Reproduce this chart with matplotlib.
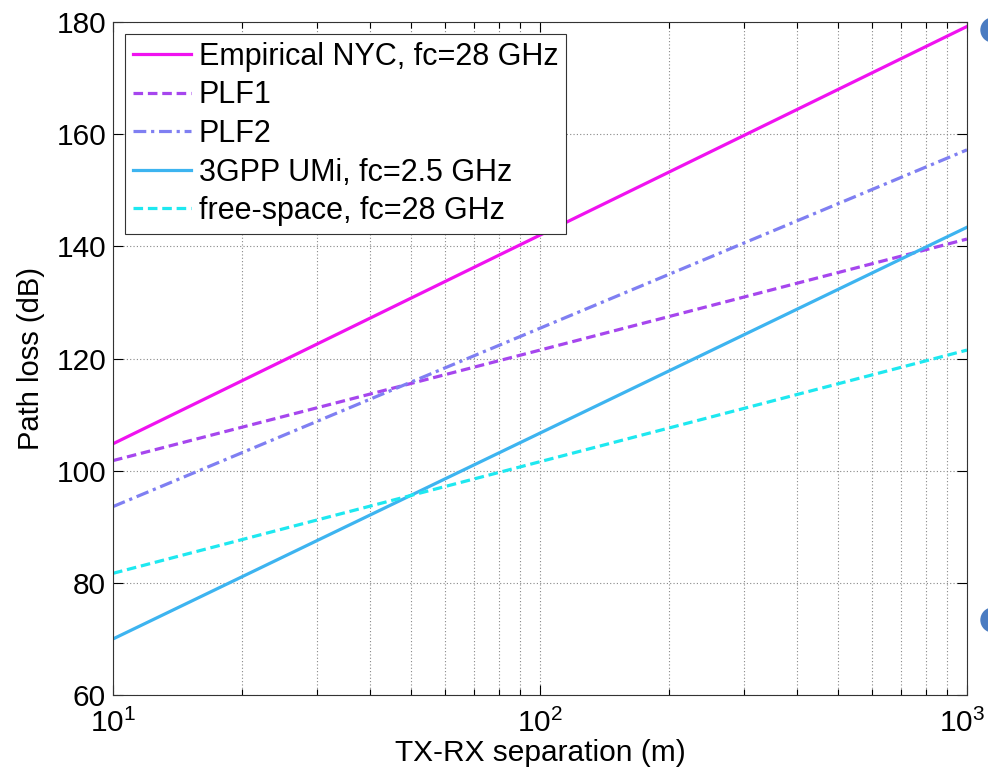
import matplotlib
matplotlib.use("Agg")
import matplotlib.pyplot as plt
from matplotlib.patches import Ellipse
from matplotlib.ticker import LogLocator, NullFormatter
from matplotlib.transforms import blended_transform_factory, ScaledTranslation

plt.rcParams['font.family'] = ['Liberation Sans', 'DejaVu Sans']
plt.rcParams['mathtext.fontset'] = 'custom'
plt.rcParams['mathtext.rm'] = 'Liberation Sans'
plt.rcParams['mathtext.it'] = 'Liberation Sans'

# distances (m) and path loss (dB)
distance = [10, 100, 1000]
pl_nyc = [104.8, 142.0, 179.2]
pl_plf1 = [101.8, 121.5, 141.3]
pl_plf2 = [93.6, 125.4, 157.2]
pl_3gpp = [70.0, 106.7, 143.4]
pl_free = [81.7, 101.6, 121.5]

labels = ["Empirical NYC, fc=28 GHz", "PLF1", "PLF2",
          "3GPP UMi, fc=2.5 GHz", "free-space, fc=28 GHz"]
xticks = [10, 100, 1000]
xticklabels = [r"$10^{1}$", r"$10^{2}$", r"$10^{3}$"]

W, H = 988, 777
fig = plt.figure(figsize=(W / 100, H / 100), dpi=100)
ax = fig.add_axes([0.1144, 0.1055, 0.8643, 0.8662])

lw = 2.3
ax.plot(distance, pl_nyc, color="#f012f0", lw=lw, ls="-", label=labels[0])
ax.plot(distance, pl_plf1, color="#a646ee", lw=lw, ls=(0, (3, 1.5)), label=labels[1])
ax.plot(distance, pl_plf2, color="#7f7ff2", lw=lw, ls=(0, (4, 1.5, 1, 1.5)), label=labels[2])
ax.plot(distance, pl_3gpp, color="#3db4f0", lw=lw, ls="-", label=labels[3])
ax.plot(distance, pl_free, color="#1ee8f0", lw=lw, ls=(0, (3, 1.5)), label=labels[4])

ax.set_xscale("log")
ax.set_xlim(10, 1000)
ax.set_ylim(60, 180)
ax.set_yticks(range(60, 181, 20))
ax.set_xticks(xticks)
ax.xaxis.set_major_formatter(NullFormatter())
ax.xaxis.set_minor_locator(LogLocator(base=10, subs=range(2, 10)))
ax.xaxis.set_minor_formatter(NullFormatter())

ax.grid(True, which="major", ls=(0, (1, 2)), color="#888888", lw=0.8)
ax.grid(True, which="minor", axis="x", ls=(0, (1, 2)), color="#888888", lw=0.8)
ax.tick_params(which="both", direction="in", top=True, right=True, labelsize=21.5, width=0.8)
ax.tick_params(which="major", length=7)
ax.tick_params(which="minor", length=4)
ax.tick_params(axis="y", pad=5)
for s in ax.spines.values():
    s.set_linewidth(0.8)
    s.set_color("#333333")

# x tick labels as texts so the last one can stay inside the canvas
trans = blended_transform_factory(ax.transData, ax.transAxes)
for i, (xv, lab) in enumerate(zip(xticks, xticklabels)):
    dx = -5 if i == len(xticks) - 1 else 0
    t = trans + ScaledTranslation(dx / 100, -14 / 100, fig.dpi_scale_trans)
    ax.text(xv, 0, lab, transform=t, ha="center", va="top", fontsize=21.5)

ax.set_xlabel("TX-RX separation (m)", fontsize=21.5)
ax.xaxis.set_label_coords(0.5, -0.066)
ax.set_ylabel("Path loss (dB)", fontsize=21, labelpad=8)

leg = ax.legend(loc="upper left", fontsize=22, fancybox=False, framealpha=1,
                edgecolor="#333333", borderaxespad=0.4, handlelength=1.9,
                handletextpad=0.25, labelspacing=0.28, borderpad=0.25)
leg.get_frame().set_linewidth(0.8)

# slide bullet dots at the right edge
r = 12
for cx, cy in ((993, 30), (993, 620)):
    fig.patches.append(Ellipse((cx / W, 1 - cy / H), 2 * r / W, 2 * r / H,
                               transform=fig.transFigure, color="#4a7cc2", zorder=5))

fig.savefig("out.png", dpi=100)
